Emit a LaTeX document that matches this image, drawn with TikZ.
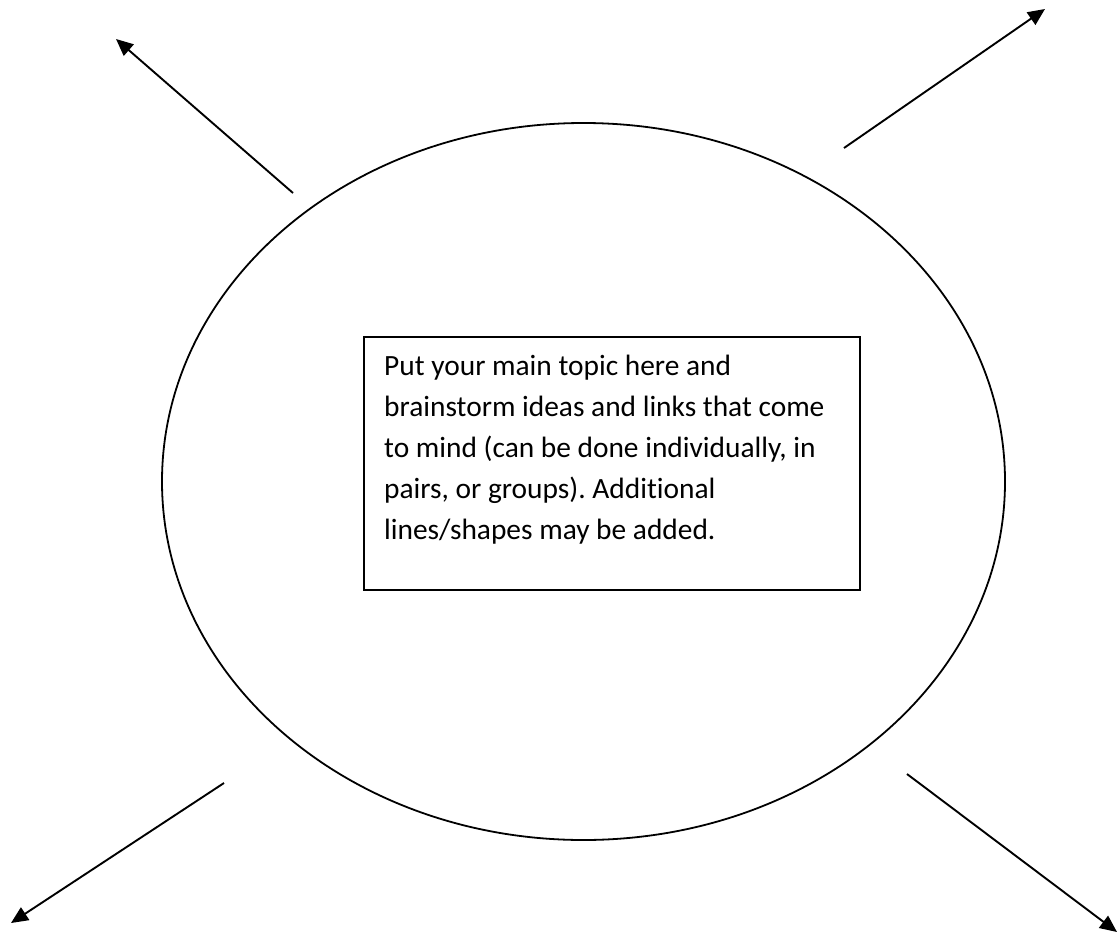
\documentclass[tikz,border=0pt]{standalone}
\usepackage{fontspec}
\setmainfont{Carlito}[Ligatures=NoCommon]
\frenchspacing
\usetikzlibrary{arrows.meta, positioning, shapes.geometric}
\tikzset {
  bubble/.style = {draw, line width=1.8pt, ellipse, inner sep=0, minimum width=843pt, minimum height=717pt},
  topicbox/.style = {draw, line width=1.8pt, rectangle, inner sep=0, minimum width=496pt, minimum height=253pt, anchor=north west},
  topictext/.style = {inner sep=0, align=left, anchor=north west, font=\fontsize{29.4}{41}\selectfont},
  line/.style = {-{Triangle[length=17pt, width=15pt]}, line width=1.9pt, color=black},
}

\begin{document}
\begin{tikzpicture}[x=1pt, y=-1pt]
    \useasboundingbox (0,0) rectangle (1118,934);

    \node[bubble] (idea) at (583.5,481.5) {};
    \node[topicbox] (box) at (363,336) {};
    \node[topictext, below right=19pt and 21pt of box.north west] (topic)
        {Put your main topic here and\\
         brainstorm ideas and links that come\\
         to mind (can be done individually, in\\
         pairs, or groups). Additional\\
         lines/shapes may be added.};

    % free ends of the four branches
    \coordinate (nwfrom) at (293,193);
    \coordinate (nwto) at (116,39);
    \coordinate (nefrom) at (844,148);
    \coordinate (neto) at (1045,9);
    \coordinate (swfrom) at (224,783);
    \coordinate (swto) at (11,923);
    \coordinate (sefrom) at (907,774);
    \coordinate (seto) at (1117,932);

    \draw[line] (nwfrom) -- (nwto);
    \draw[line] (nefrom) -- (neto);
    \draw[line] (swfrom) -- (swto);
    \draw[line] (sefrom) -- (seto);

\end{tikzpicture}
\end{document}
